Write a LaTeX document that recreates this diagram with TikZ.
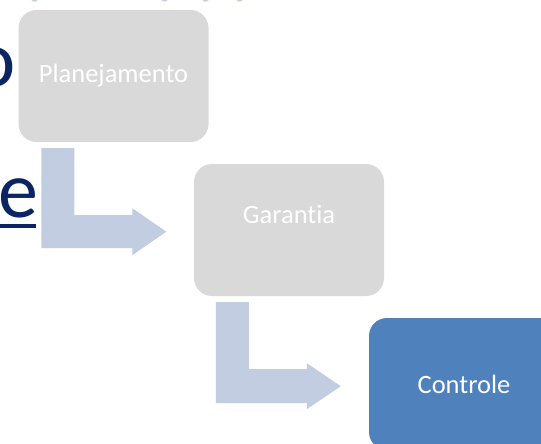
\documentclass[tikz,border=0pt]{standalone}
\usepackage{fontspec}
\setmainfont[Ligatures={NoCommon}]{Carlito}
\usetikzlibrary{calc}
\definecolor{boxgray}{HTML}{D9D9D9}
\definecolor{arrowblue}{HTML}{C3CDE1}
\definecolor{ctrlblue}{HTML}{4F81BD}
\definecolor{navy}{HTML}{0B2463}
\definecolor{faint}{HTML}{C7CFE2}
\tikzset{
  stagebox/.style={rectangle, rounded corners=18pt, minimum width=190pt, minimum height=132pt, inner sep=0pt, draw=none},
  stagetext/.style={text=white, font=\fontsize{26.5}{30}\selectfont, inner sep=0pt},
  bentarrow/.style={fill=arrowblue, draw=none},
  bigletter/.style={text=navy, font=\fontsize{80}{96}\selectfont, inner sep=0pt}
}
\begin{document}
\begin{tikzpicture}[x=1pt,y=-1pt]
\useasboundingbox (0,0) rectangle (541,444);
\clip (0,0) rectangle (541,444);
\fill[white] (0,0) rectangle (541,444);
% fragments of text at the left edge
\node[bigletter, anchor=base east] (lo) at (15.6,86) {o};
\node[bigletter, anchor=base west] (le) at (-2,217) {e};
\fill[navy] (0,223.5) rectangle (36,227.5);
% faint fragments at top edge
\foreach \xx/\ww in {34.5/3, 164.5/3, 205.5/3, 239.5/3}{
  \fill[faint] (\xx,0) ellipse ({\ww pt} and 1.6pt);
}
% boxes
\node[stagebox, fill=boxgray] (p) at (113.5,76) {};
\node[stagebox, fill=boxgray] (g) at (289,230) {};
\node[stagebox, fill=ctrlblue] (c) at (464,384) {};
\node[stagetext] (pt) at (p.center) {Planejamento};
\node[stagetext] (gt) at ($(g.center)+(0,-15.5)$) {Garantia};
\node[stagetext] (ct) at (c.center) {Controle};
% bent arrows
\fill[bentarrow, shift={(p.south west)}]
  (23,6) -- (56,6) -- (56,73) -- (114,73) -- (114,66) -- (148,89.5)
  -- (114,113) -- (114,106) -- (23,106) -- cycle;
\fill[bentarrow, shift={(g.south west)}]
  (22,6) -- (55,6) -- (55,73) -- (113,73) -- (113,67) -- (147,90)
  -- (113,113) -- (113,107) -- (22,107) -- cycle;
\end{tikzpicture}
\end{document}
